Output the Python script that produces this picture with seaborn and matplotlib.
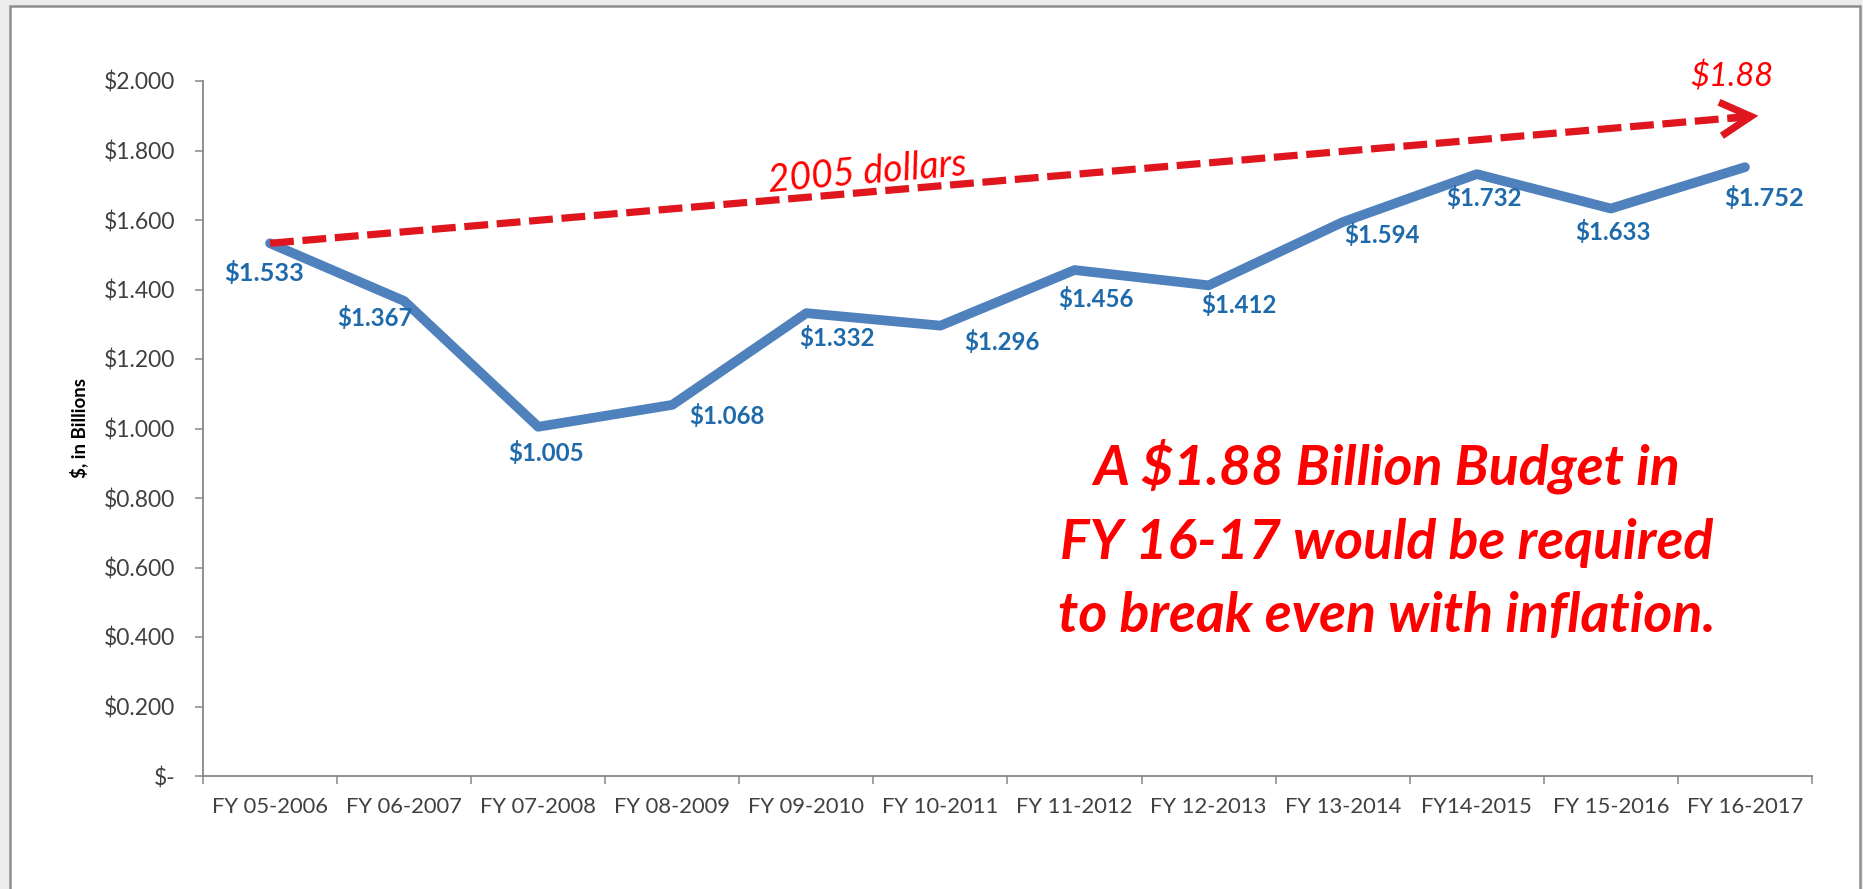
import numpy as np
import pandas as pd
import matplotlib
matplotlib.use("Agg")
import matplotlib.pyplot as plt
import seaborn as sns
from matplotlib.patches import Rectangle

# ---------------- data ----------------
categories = ["FY 05-2006", "FY 06-2007", "FY 07-2008", "FY 08-2009", "FY 09-2010",
              "FY 10-2011", "FY 11-2012", "FY 12-2013", "FY 13-2014", "FY14-2015",
              "FY 15-2016", "FY 16-2017"]
budget = [1.533, 1.367, 1.005, 1.068, 1.332, 1.296, 1.456, 1.412, 1.594, 1.732, 1.633, 1.752]
value_labels = ["$1.533", "$1.367", "$1.005", "$1.068", "$1.332", "$1.296", "$1.456",
                "$1.412", "$1.594", "$1.732", "$1.633", "$1.752"]
trend_x = [0.0, 11.1]          # 2005-dollars trend (category positions)
trend_y = [1.533, 1.90]
y_ticks = [0.0, 0.2, 0.4, 0.6, 0.8, 1.0, 1.2, 1.4, 1.6, 1.8, 2.0]
y_tick_labels = ["$-", "$0.200", "$0.400", "$0.600", "$0.800", "$1.000", "$1.200",
                 "$1.400", "$1.600", "$1.800", "$2.000"]

# label offsets in pixels (style only)
label_offsets = [(-6, -30), (-29, -17), (8, -26), (55, -11), (31, -25), (61, -16),
                 (21, -29), (30, -20), (39, -13), (7, -24), (2, -23), (19, -31)]
label_sizes = [18.3, 17.3, 17.3, 17.3, 17.3, 17.3, 17.3, 17.3, 17.3, 17.3, 17.3, 18.3]

# ---------------- style ----------------
sns.set_theme(style="white")
plt.rcParams["font.family"] = ["Lato", "DejaVu Sans"]

BLUE = "#4F81BD"
LABEL_BLUE = "#1F6AAA"
RED_LINE = "#E0161E"
RED_TEXT = "#FF0000"
GREY = "#878787"
TICK_TXT = "#404040"

fig = plt.figure(figsize=(18.63, 8.89), dpi=100)
fig.patch.set_facecolor("#ECECEC")
fig.patches.append(Rectangle((10 / 1863, -0.01), 1850 / 1863, 1 - 6 / 889 + 0.01,
                             transform=fig.transFigure, facecolor="white",
                             edgecolor="#8E8E8E", lw=1.8, zorder=-10))

ax = fig.add_axes([203 / 1863, 1 - 776 / 889, 1609 / 1863, (776 - 81) / 889])
ax.set_facecolor("none")
ax.set_zorder(1)

x = np.arange(len(categories))
df = pd.DataFrame({"x": x, "budget": budget})
sns.lineplot(data=df, x="x", y="budget", ax=ax, color=BLUE, lw=7,
             solid_capstyle="round", solid_joinstyle="round", zorder=3)

tdf = pd.DataFrame({"x": trend_x, "y": trend_y})
sns.lineplot(data=tdf, x="x", y="y", ax=ax, color=RED_LINE, lw=5.2,
             dashes=False, zorder=4)
ax.lines[-1].set_dashes((3.3, 1.2))
ax.lines[-1].set_dash_capstyle("butt")

# arrow head
ax.annotate("", xy=(trend_x[-1], trend_y[-1]), xytext=(-30, -2.6),
            textcoords="offset pixels",
            arrowprops=dict(arrowstyle="->,head_length=1.0,head_width=0.55",
                            color=RED_LINE, lw=5.2, mutation_scale=22,
                            shrinkA=0, shrinkB=0, capstyle="butt", joinstyle="miter"),
            zorder=5)

# data labels
for xi, yi, lab, off, fs in zip(x, budget, value_labels, label_offsets, label_sizes):
    ax.annotate(lab, xy=(xi, yi), xytext=off, textcoords="offset pixels",
                ha="center", va="center", fontsize=fs, fontweight="bold",
                color=LABEL_BLUE, zorder=6)

# text annotations
ax.text((867 - 203) / 1609, (776 - 173) / 695, "2005 dollars", transform=ax.transAxes,
        rotation=4.9, ha="center", va="center", fontsize=27, style="italic",
        color=RED_TEXT, rotation_mode="anchor")
ax.text((1732 - 203) / 1609, (776 - 77) / 695, "$1.88", transform=ax.transAxes,
        ha="center", va="center", fontsize=23.5, style="italic", color=RED_TEXT)
fig.text(1387 / 1863, 1 - 540 / 889,
         "A $1.88 Billion Budget in\nFY 16-17 would be required\nto break even with inflation.",
         ha="center", va="center", fontsize=40, fontweight="bold", style="italic",
         color=RED_TEXT, linespacing=1.57, zorder=5)

# axes styling
ax.set_xlim(-0.5, len(categories) - 0.5)
ax.set_ylim(0, 2.0)
ax.set_yticks(y_ticks)
ax.set_yticklabels(y_tick_labels)
ax.set_xticks(x)
ax.set_xticklabels(categories)
ax.set_xticks(np.arange(len(categories) + 1) - 0.5, minor=True)
ax.tick_params(axis="x", which="major", length=0, pad=15, labelsize=15.8, labelcolor=TICK_TXT)
ax.tick_params(axis="x", which="minor", length=6, width=1.1, color=GREY, direction="out", bottom=True)
ax.tick_params(axis="y", which="major", length=6, width=1.1, color=GREY, direction="out",
               left=True, pad=14, labelsize=16.5, labelcolor=TICK_TXT)
for s in ["top", "right"]:
    ax.spines[s].set_visible(False)
for s in ["left", "bottom"]:
    ax.spines[s].set_color(GREY)
    ax.spines[s].set_linewidth(1.3)
ax.set_xlabel("")
ax.set_ylabel("$, in Billions", fontsize=13.5, fontweight="bold", color="#000000")
ax.yaxis.set_label_coords((88 - 203) / 1609, 0.5)
ax.grid(False)

fig.savefig("out.png", dpi=100, facecolor=fig.get_facecolor())
